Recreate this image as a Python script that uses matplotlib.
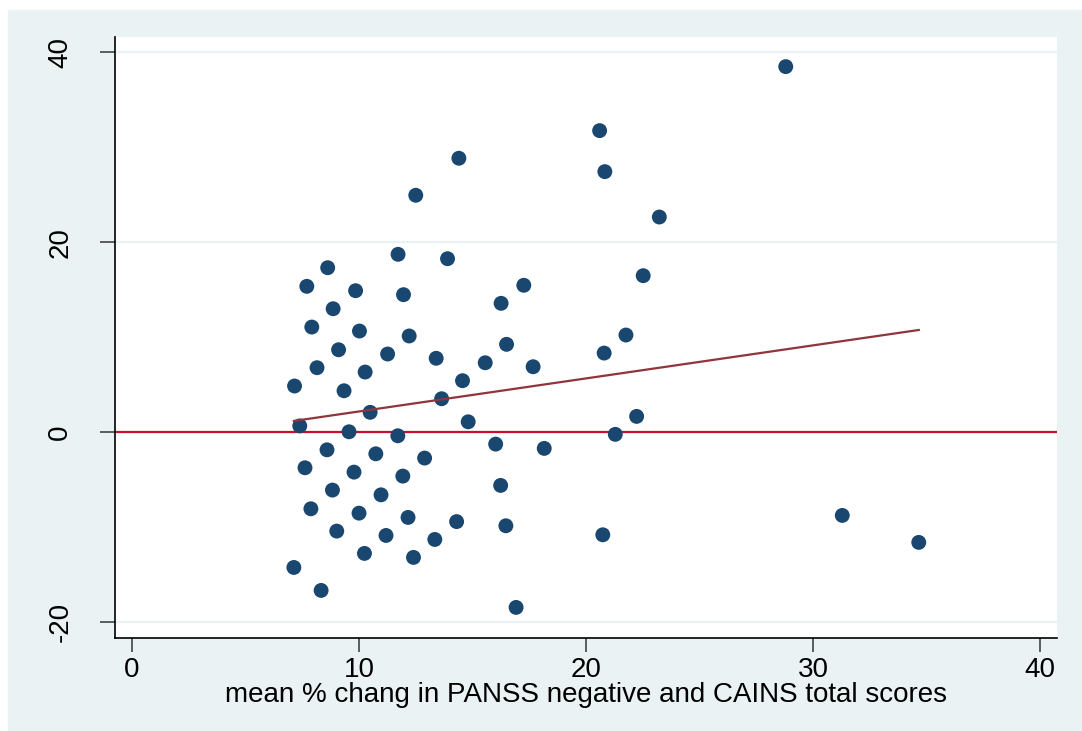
import matplotlib.pyplot as plt
import numpy as np
from matplotlib.patches import Rectangle

plt.rcParams["font.family"] = ["Liberation Sans", "DejaVu Sans"]
plt.rcParams["axes.unicode_minus"] = False

# mean % change in PANSS negative and CAINS total scores
pct_change = [
    11.72, 13.90, 8.62, 7.70, 9.85, 11.96, 8.86, 7.92, 10.02, 12.21,
    9.10, 11.26, 13.40, 8.15, 10.27, 7.16, 9.34, 13.64, 10.49, 7.39,
    9.56, 11.71, 8.59, 10.74, 12.89, 7.62, 9.78, 11.93, 8.83, 10.97,
    7.88, 10.00, 12.16, 14.30, 9.02, 11.19, 13.34, 10.24, 12.40, 7.13,
    8.33, 17.26, 16.26, 16.50, 15.56, 17.67, 14.56, 14.81, 16.02, 18.16,
    16.24, 16.47, 16.92, 28.80, 20.60, 20.83, 23.23, 22.52, 21.76, 20.80,
    22.23, 21.29, 20.74, 31.29, 34.66, 14.40, 12.50,
]
outcome = [
    18.71, 18.25, 17.30, 15.34, 14.88, 14.46, 12.98, 11.05, 10.63, 10.11,
    8.66, 8.21, 7.76, 6.77, 6.31, 4.84, 4.34, 3.50, 2.07, 0.64,
    0.02, -0.40, -1.88, -2.30, -2.75, -3.77, -4.23, -4.65, -6.12, -6.62,
    -8.09, -8.55, -9.00, -9.44, -10.44, -10.90, -11.32, -12.79, -13.21, -14.27,
    -16.69, 15.45, 13.55, 9.23, 7.29, 6.87, 5.40, 1.07, -1.28, -1.73,
    -5.63, -9.88, -18.48, 38.48, 31.74, 27.42, 22.64, 16.46, 10.21, 8.31,
    1.64, -0.25, -10.83, -8.79, -11.63, 28.83, 24.93,
]

# linear fit (lfit) coefficients
fit_intercept = -1.32
fit_slope = 0.348

x_ticks = [0, 10, 20, 30, 40]
y_ticks = [-20, 0, 20, 40]
x_label = "mean % chang in PANSS negative and CAINS total scores"

BG = "#EAF2F3"
NAVY = "#1A476F"
MAROON = "#90353B"
RED = "#C8102E"

W, H = 1082, 731
fig = plt.figure(figsize=(W / 100, H / 100), dpi=100)
fig.patches.append(Rectangle((8 / W, 0), 1 - 8 / W, 1 - 10 / H,
                             transform=fig.transFigure, color=BG, zorder=-10))

ax = fig.add_axes([115 / W, (H - 638) / H, (1057 - 115) / W, (638 - 37) / H])
ax.set_facecolor("white")

x = np.asarray(pct_change)
y = np.asarray(outcome)

for t in y_ticks:
    ax.axhline(t, color=BG, linewidth=1.7, zorder=1)

ax.axhline(0, color=RED, linewidth=1.6, zorder=2)
ax.scatter(x, y, s=115, color=NAVY, edgecolors="none", zorder=3)

# fitted line over the observed x range
xs = np.array([x.min(), x.max()])
ax.plot(xs, fit_intercept + fit_slope * xs, color=MAROON, linewidth=1.6, zorder=4)

ax.set_xlim(-0.75, 40.75)
ax.set_ylim(-21.7, 41.6)
ax.set_xticks(x_ticks)
ax.set_yticks(y_ticks)
ax.tick_params(axis="x", length=10, width=1.2, color="#444444", pad=4, labelsize=20)
ax.tick_params(axis="y", length=11, width=1.2, color="#444444", pad=19,
               labelsize=20, labelrotation=90)
for lab in ax.get_yticklabels():
    lab.set_va("center")

for side in ("top", "right"):
    ax.spines[side].set_visible(False)
for side in ("left", "bottom"):
    ax.spines[side].set_linewidth(1.2)
    ax.spines[side].set_color("black")

ax.set_xlabel(x_label, fontsize=20, labelpad=-1)

fig.savefig("out.png", dpi=100, facecolor="white")
